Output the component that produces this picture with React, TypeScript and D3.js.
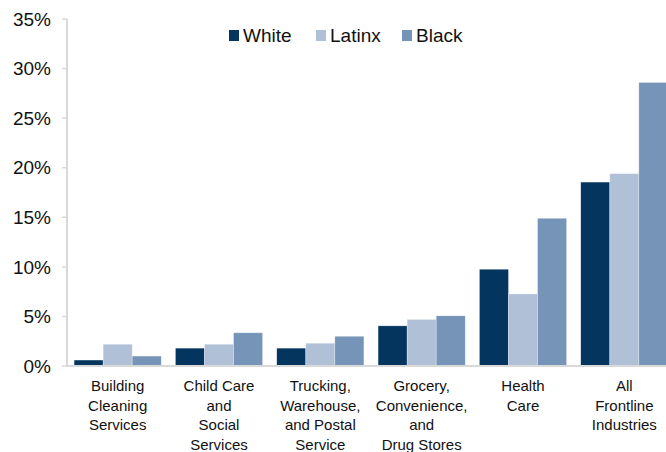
import React from "react";
import * as d3 from "d3";

const categories = [
  "Building Cleaning Services",
  "Child Care and Social Services",
  "Trucking, Warehouse, and Postal Service",
  "Grocery, Convenience, and Drug Stores",
  "Health Care",
  "All Frontline Industries",
];
const categoryLines = [
  ["Building", "Cleaning", "Services"],
  ["Child Care", "and", "Social", "Services"],
  ["Trucking,", "Warehouse,", "and Postal", "Service"],
  ["Grocery,", "Convenience,", "and", "Drug Stores"],
  ["Health", "Care"],
  ["All", "Frontline", "Industries"],
];
const seriesNames = ["White", "Latinx", "Black"];
const white = [0.6, 1.8, 1.8, 4.05, 9.76, 18.55];
const latinx = [2.2, 2.2, 2.3, 4.7, 7.27, 19.4];
const black = [1.0, 3.35, 3.0, 5.06, 14.9, 28.6];
const seriesValues = [white, latinx, black];
const colors = ["#03355E", "#B0C1D7", "#7594B8"];
const yTicks = [0, 5, 10, 15, 20, 25, 30, 35];

export default function App() {
  const W = 666, H = 452;
  const left = 67, right = 675, top = 19, bottom = 366;
  const x = d3.scaleBand<string>().domain(categories).range([left, right]).paddingInner(0.14).paddingOuter(0.07);
  const xs = d3.scaleBand<string>().domain(seriesNames).range([0, x.bandwidth()]).padding(0);
  const y = d3.scaleLinear().domain([0, 35]).range([bottom, top]);
  const font = "Arial, 'Liberation Sans', sans-serif";
  const legendX = [229, 316, 402];

  return (
    <svg width={W} height={H} style={{ position: "absolute", left: 0, top: 0, background: "#fff" }} fontFamily={font}>
      {categories.map((c, i) => (
        <g key={c}>
          {seriesNames.map((s, j) => {
            const v = seriesValues[j][i];
            return (
              <rect
                key={s}
                x={(x(c) ?? 0) + (xs(s) ?? 0)}
                y={y(v)}
                width={xs.bandwidth()}
                height={y(0) - y(v)}
                fill={colors[j]}
                stroke="#ffffff"
                strokeOpacity={0.5}
                strokeWidth={0.6}
              />
            );
          })}
          <text textAnchor="middle" fontSize={15} fill="#111">
            {categoryLines[i].map((ln, k) => (
              <tspan key={k} x={(x(c) ?? 0) + x.bandwidth() / 2} y={391 + k * 19.5}>{ln}</tspan>
            ))}
          </text>
        </g>
      ))}
      <line x1={left} x2={W} y1={bottom} y2={bottom} stroke="#d9d9d9" strokeWidth={2} />
      <line x1={left} x2={left} y1={top} y2={bottom} stroke="#d9d9d9" strokeWidth={2} />
      {yTicks.map((t) => (
        <g key={t}>
          <line x1={left - 5} x2={left} y1={y(t)} y2={y(t)} stroke="#d9d9d9" strokeWidth={1.5} />
          <text x={51} y={y(t)} dy="0.35em" textAnchor="end" fontSize={19} fill="#111">{t}%</text>
        </g>
      ))}
      {seriesNames.map((s, j) => (
        <g key={s}>
          <rect x={legendX[j]} y={30} width={10} height={11} fill={colors[j]} />
          <text x={legendX[j] + 14} y={42} fontSize={19} fill="#111">{s}</text>
        </g>
      ))}
    </svg>
  );
}
